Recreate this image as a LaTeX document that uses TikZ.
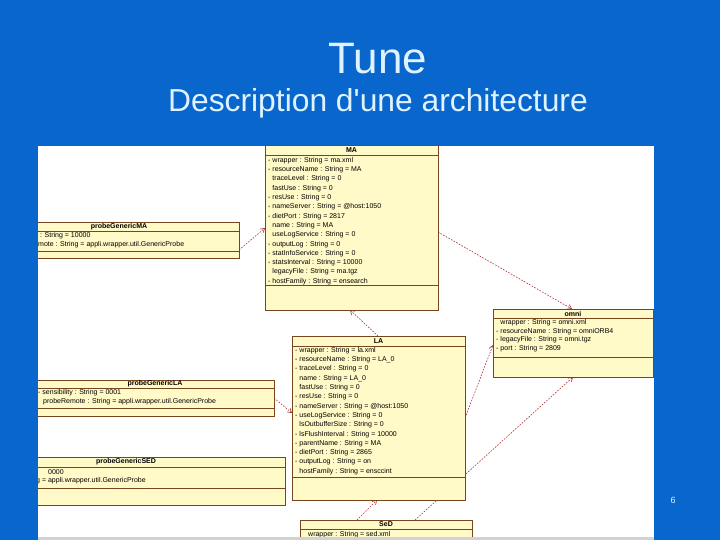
\documentclass[tikz,border=0pt]{standalone}
\usepackage{fontspec}
\setmainfont{Liberation Sans}
\newfontfamily\plainfont{Liberation Sans}[Ligatures=TeXOff]
\usetikzlibrary{arrows.meta}
\pgfdeclarelayer{panel}
\pgfdeclarelayer{links}
\pgfsetlayers{panel,links,main}
\definecolor{slideblue}{RGB}{8,102,204}
\definecolor{titlecol}{RGB}{222,242,255}
\definecolor{boxfill}{RGB}{255,250,200}
\definecolor{boxline}{RGB}{120,70,30}
\definecolor{linkcol}{RGB}{170,50,50}
\tikzset{
  cls/.style={rectangle, draw=boxline, fill=boxfill, line width=0.8pt, inner sep=0pt, outer sep=0pt},
  sepline/.style={draw=boxline, line width=0.8pt},
  hdr/.style={font=\fontsize{7}{8}\selectfont\bfseries, inner sep=0pt},
  attr/.style={font=\fontsize{7}{8}\selectfont, inner sep=0pt, anchor=west},
  link/.style={draw=linkcol, line width=0.6pt, dash pattern=on 1.6pt off 1.4pt, -{Straight Barb[length=4pt,width=5pt]}},
}
\begin{document}
\begin{tikzpicture}[x=1pt,y=-1pt]
\useasboundingbox (0,0) rectangle (720,540);
\begin{pgfonlayer}{panel}
\fill[slideblue] (0,0) rectangle (720,540);
\fill[white] (38,146) rectangle (654,540);
\end{pgfonlayer}
% titles
\node[text=titlecol, font=\fontsize{44}{50}\selectfont, inner sep=0pt] (title) at (378,59) {Tune};
\node[text=titlecol, font=\plainfont\fontsize{31.8}{36}\selectfont, inner sep=0pt] (subtitle) at (378,103) {Description d'une architecture};
\node[text=titlecol, font=\fontsize{9}{10}\selectfont, inner sep=0pt] (pagenum) at (673,500) {6};
\begin{scope}
\clip (38,146) rectangle (654,540);
% ---------- MA ----------
\node[cls, minimum width=173pt, minimum height=165pt] (MA) at (351.5,227.5) {};
\draw[sepline] (265,155) -- (438,155);
\draw[sepline] (265,285) -- (438,285);
\node[hdr] at (351.5,150.5) {MA};
\foreach \t [count=\i] in {
  - wrapper : String = ma.xml,
  - resourceName : String = MA,
  \phantom{-} traceLevel : String = 0,
  \phantom{-} fastUse : String = 0,
  - resUse : String = 0,
  - nameServer : String = @host:1050,
  - dietPort : String = 2817,
  \phantom{-} name : String = MA,
  \phantom{-} useLogService : String = 0,
  - outputLog : String = 0,
  - statInfoService : String = 0,
  - statsInterval : String = 10000,
  \phantom{-} legacyFile : String = ma.tgz,
  - hostFamily : String = ensearch}
  \node[attr] at (268,{160.5+(\i-1)*9.3}) {\t};
% ---------- probeGenericMA ----------
\node[cls, minimum width=240pt, minimum height=36pt] (pMA) at (119,240) {};
\draw[sepline] (-1,231) -- (239,231);
\draw[sepline] (-1,251) -- (239,251);
\node[hdr] at (119,226.5) {probeGenericMA};
\node[attr] at (40,235.5) {: String = 10000};
\node[attr] at (38,244.5) {mote : String = appli.wrapper.util.GenericProbe};
% ---------- omni ----------
\node[cls, minimum width=160pt, minimum height=68pt] (omni) at (573,343) {};
\draw[sepline] (493,318) -- (653,318);
\draw[sepline] (493,357) -- (653,357);
\node[hdr] at (573,313.5) {omni};
\foreach \t [count=\i] in {
  \phantom{-} wrapper : String = omni.xml,
  - resourceName : String = omniORB4,
  - legacyFile : String = omni.tgz,
  - port : String = 2809}
  \node[attr] at (496,{322.5+(\i-1)*8.8}) {\t};
% ---------- LA ----------
\node[cls, minimum width=173pt, minimum height=164pt] (LA) at (378.5,418) {};
\draw[sepline] (292,346) -- (465,346);
\draw[sepline] (292,477) -- (465,477);
\node[hdr] at (378.5,341.5) {LA};
\foreach \t [count=\i] in {
  - wrapper : String = la.xml,
  - resourceName : String = LA\_0,
  - traceLevel : String = 0,
  \phantom{-} name : String = LA\_0,
  \phantom{-} fastUse : String = 0,
  - resUse : String = 0,
  - nameServer : String = @host:1050,
  - useLogService : String = 0,
  \phantom{-} lsOutbufferSize : String = 0,
  - lsFlushInterval : String = 10000,
  - parentName : String = MA,
  - dietPort : String = 2865,
  - outputLog : String = on,
  \phantom{-} hostFamily : String = ensccint}
  \node[attr] at (295,{350.5+(\i-1)*9.3}) {\t};
% ---------- probeGenericLA ----------
\node[cls, minimum width=238pt, minimum height=36pt] (pLA) at (155,398) {};
\draw[sepline] (36,388) -- (274,388);
\draw[sepline] (36,408) -- (274,408);
\node[hdr] at (155,384) {probeGenericLA};
\node[attr] at (38,393) {- sensibility : String = 0001};
\node[attr] at (43,402) {probeRemote : String = appli.wrapper.util.GenericProbe};
% ---------- probeGenericSED ----------
\node[cls, minimum width=318pt, minimum height=48pt] (pSED) at (126,481) {};
\draw[sepline] (-33,467) -- (285,467);
\draw[sepline] (-33,488) -- (285,488);
\node[hdr] at (126,462) {probeGenericSED};
\node[attr] at (48,472) {0000};
\node[attr] at (36,481) {g = appli.wrapper.util.GenericProbe};
% ---------- SeD ----------
\node[cls, minimum width=172pt, minimum height=80pt] (SeD) at (386,560) {};
\draw[sepline] (300,529) -- (472,529);
\node[hdr] at (386,524.5) {SeD};
\node[attr] at (308,534.5) {wrapper : String = sed.xml};
\end{scope}
% scroll bar
\fill[gray!35] (38,537) rectangle (654,540);
% ---------- connectors ----------
\begin{pgfonlayer}{links}
\draw[link] (pMA.east |- 0,250) -- (MA.west |- 0,228);
\draw[link] (LA.north -| 378,0) -- (MA.south -| 350,0);
\draw[link] (MA.east |- 0,232) -- (omni.north -| 572,0);
\draw[link] (LA.east |- 0,418) -- (omni.west |- 0,345);
\draw[link] (SeD.north -| 415,0) -- (omni.south -| 573,0);
\draw[link] (pLA.east |- 0,398) -- (LA.west |- 0,413);
\draw[link] (SeD.north -| 357,0) -- (LA.south -| 377,0);
\end{pgfonlayer}
\end{tikzpicture}
\end{document}
